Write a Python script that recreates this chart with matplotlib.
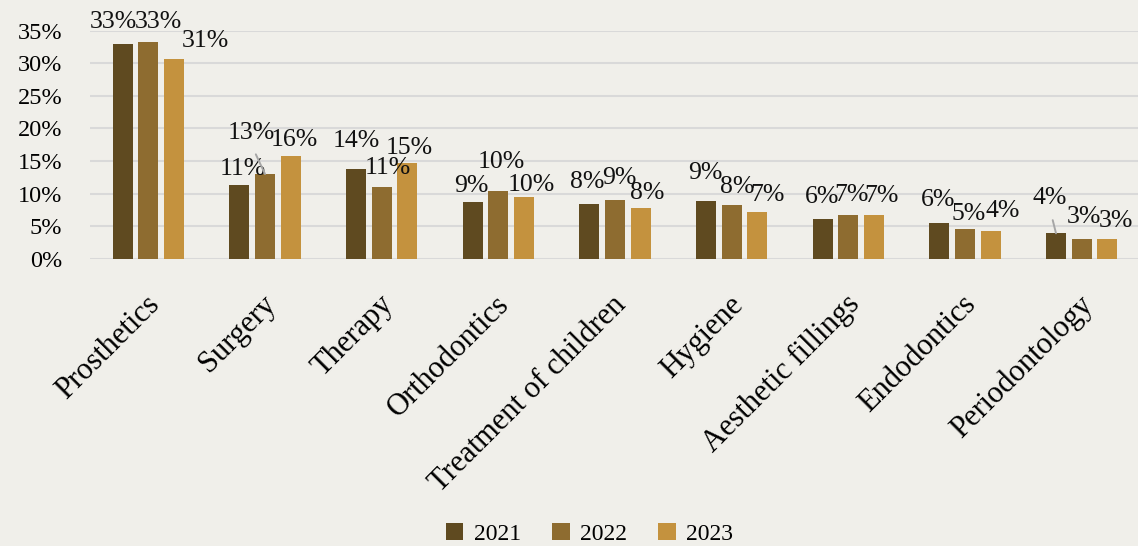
import numpy as np
import matplotlib
matplotlib.use("Agg")
from matplotlib import pyplot as plt

# categories and yearly shares (%)
categories = ["Prosthetics", "Surgery", "Therapy", "Orthodontics", "Treatment of children",
              "Hygiene", "Aesthetic fillings", "Endodontics", "Periodontology"]
years = ["2021", "2022", "2023"]
share_2021 = [33.0, 11.3, 13.8, 8.7, 8.4, 8.9, 6.1, 5.5, 3.9]
share_2022 = [33.2, 13.0, 11.0, 10.4, 9.0, 8.3, 6.7, 4.6, 3.0]
share_2023 = [30.7, 15.7, 14.7, 9.5, 7.8, 7.2, 6.7, 4.3, 3.0]
yticks = [0, 5, 10, 15, 20, 25, 30, 35]

colors = ["#5f4a20", "#8e6c30", "#c4923e"]
bg = "#f0efea"

# label nudges in pixels (dx, dy) from bar top, per series
offsets = [
    [(-9, 22), (3, 16), (0, 28), (-1, 16), (-2, 22), (-1, 28), (-1, 22), (-1, 23), (-6, 35)],
    [(10, 20), (-14, 41), (6, 19), (3, 29), (4, 22), (6, 18), (3, 20), (4, 15), (2, 22)],
    [(31, 18), (4, 16), (2, 15), (7, 12), (7, 15), (10, 17), (7, 19), (12, 20), (9, 18)],
]
leaders = {(1, 1), (0, 8)}  # (series, category) labels with a leader line

plt.rcParams['font.family'] = ['Liberation Serif', 'DejaVu Serif']

fig = plt.figure(figsize=(11.38, 5.46), dpi=100, facecolor=bg)
ax = fig.add_axes([90 / 1138, 0.5262, 1050 / 1138, 0.4176])
ax.set_facecolor(bg)

x = np.arange(len(categories))
width = 0.172
step = 0.22
series = [share_2021, share_2022, share_2023]

for i, vals in enumerate(series):
    pos = x + (i - 1) * step
    ax.bar(pos, vals, width, color=colors[i], label=years[i], zorder=3)
    for j, v in enumerate(vals):
        dx, dy = offsets[i][j]
        kw = {}
        if (i, j) in leaders:
            kw["arrowprops"] = dict(arrowstyle="-", color="#a6a6a6", lw=1.4,
                                    shrinkA=6, shrinkB=0, relpos=(0.5, 0.0))
        ax.annotate("{}%".format(int(round(v))), xy=(pos[j], v), xytext=(dx, dy),
                    textcoords="offset pixels", ha="center", va="center",
                    fontsize=18.5, color="#111111", zorder=4, **kw)

ax.set_xlim(-0.5, len(categories) - 0.5)
ax.set_ylim(0, 35)
ax.set_yticks(yticks)
ax.set_yticklabels(["{}%".format(t) for t in yticks], fontsize=17.5)
ax.yaxis.grid(True, color="#d9d9d9", lw=1.5, zorder=0)
ax.set_xticks(x + 0.06)
ax.set_xticklabels(categories, rotation=45, ha="right", va="center",
                   rotation_mode="anchor", fontsize=22)
ax.tick_params(axis="both", length=0)
ax.tick_params(axis="y", pad=20)
ax.tick_params(axis="x", pad=30)
for s in ax.spines.values():
    s.set_visible(False)

fig.legend(loc="center", bbox_to_anchor=(0.518, 0.022), ncol=3, frameon=False,
           fontsize=17, handlelength=0.75, handleheight=0.75, columnspacing=1.3,
           handletextpad=0.45)

fig.savefig("out.png", dpi=100, facecolor=bg)
